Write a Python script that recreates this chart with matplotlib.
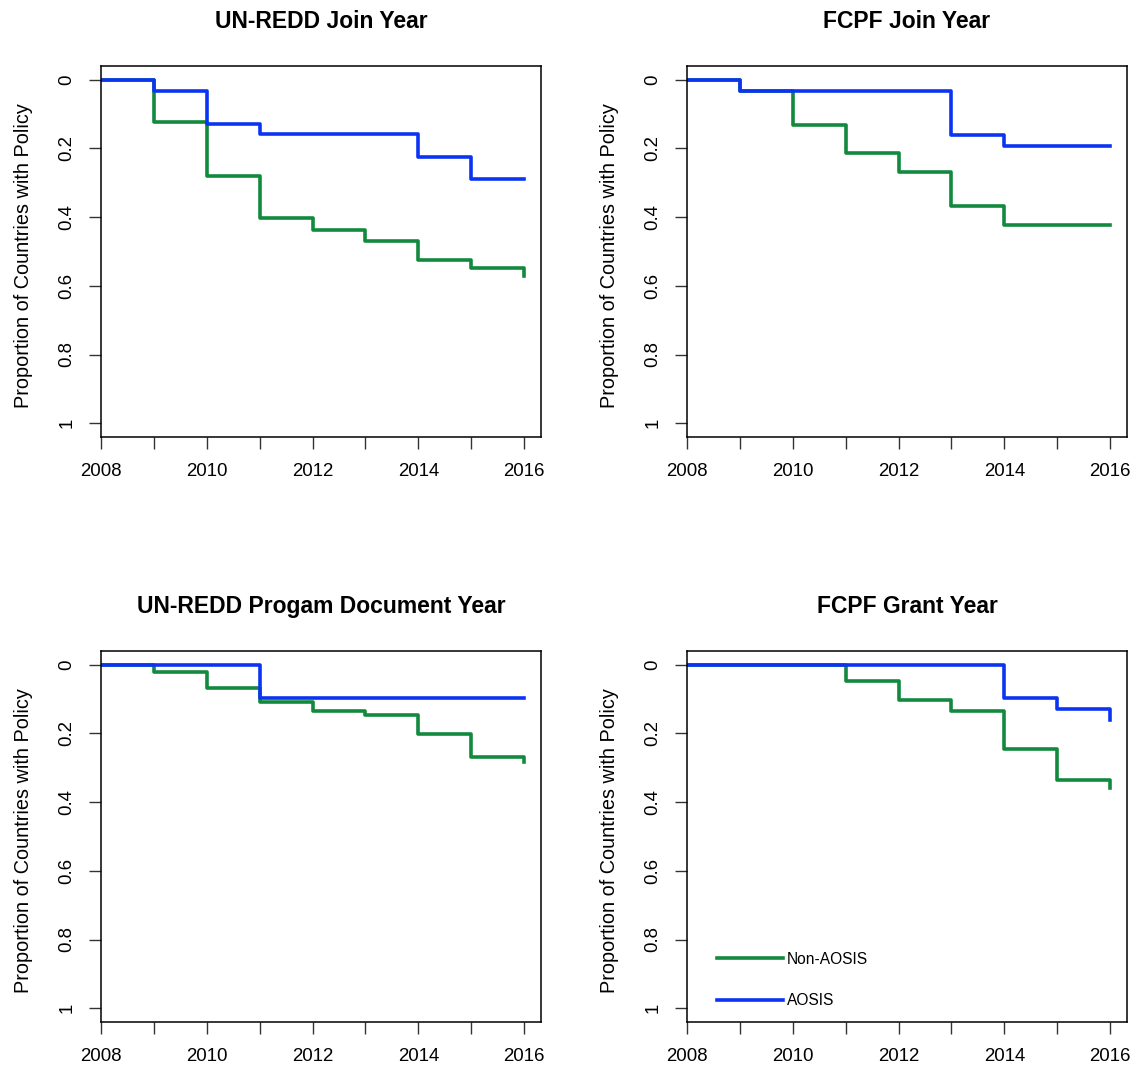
import matplotlib
matplotlib.use("Agg")
import matplotlib.pyplot as plt

plt.rcParams['font.family'] = ['Liberation Sans', 'DejaVu Sans']

# years on the x axis
years = [2008, 2009, 2010, 2011, 2012, 2013, 2014, 2015, 2016]

# panel titles
titles = ["UN-REDD Join Year", "FCPF Join Year",
          "UN-REDD Progam Document Year", "FCPF Grant Year"]

# proportion of countries with policy, Non-AOSIS (green)
non_aosis_unredd_join = [0, 0.123, 0.280, 0.403, 0.436, 0.469, 0.525, 0.549, 0.570]
non_aosis_fcpf_join = [0, 0.032, 0.133, 0.213, 0.269, 0.367, 0.423, 0.423, 0.423]
non_aosis_unredd_doc = [0, 0.022, 0.068, 0.109, 0.134, 0.146, 0.202, 0.269, 0.282]
non_aosis_fcpf_grant = [0, 0, 0, 0.046, 0.102, 0.134, 0.246, 0.335, 0.358]

# proportion of countries with policy, AOSIS (blue)
aosis_unredd_join = [0, 0.032, 0.128, 0.159, 0.159, 0.159, 0.224, 0.288, 0.288]
aosis_fcpf_join = [0, 0.032, 0.032, 0.032, 0.032, 0.161, 0.192, 0.192, 0.192]
aosis_unredd_doc = [0, 0, 0, 0.097, 0.097, 0.097, 0.097, 0.097, 0.097]
aosis_fcpf_grant = [0, 0, 0, 0, 0, 0, 0.097, 0.129, 0.162]

non_aosis = [non_aosis_unredd_join, non_aosis_fcpf_join, non_aosis_unredd_doc, non_aosis_fcpf_grant]
aosis = [aosis_unredd_join, aosis_fcpf_join, aosis_unredd_doc, aosis_fcpf_grant]

yticks = [0, 0.2, 0.4, 0.6, 0.8, 1]
ytick_labels = ["0", "0.2", "0.4", "0.6", "0.8", "1"]

green = "#128a3e"
blue = "#0b34f2"

W, H = 1135, 1069
fig = plt.figure(figsize=(W / 100, H / 100), dpi=100)

# axes boxes in pixels: left, top, right, bottom
boxes = [(101, 66, 541, 437), (687, 66, 1127, 437),
         (101, 651, 541, 1022), (687, 651, 1127, 1022)]

for i, (l, t, r, b) in enumerate(boxes):
    ax = fig.add_axes([l / W, (H - b) / H, (r - l) / W, (b - t) / H])
    ax.step(years, non_aosis[i], where='post', color=green, lw=2.6, label="Non-AOSIS")
    ax.step(years, aosis[i], where='post', color=blue, lw=2.6, label="AOSIS")

    ax.set_xlim(2008, 2016.32)
    ax.set_ylim(1.04, -0.04)

    ax.set_xticks(years)
    ax.set_xticklabels([str(y) if y % 2 == 0 else "" for y in years], fontsize=13.4)
    ax.set_yticks(yticks)
    ax.set_yticklabels(ytick_labels, fontsize=13.4, rotation=90, va='center')

    ax.tick_params(direction='out', length=8.6, width=1.0, color='#333333', pad=10)
    for s in ax.spines.values():
        s.set_linewidth(1.1)

    ax.set_title(titles[i], fontsize=16.5, fontweight='bold', pad=27.4)
    ax.set_ylabel("Proportion of Countries with Policy", fontsize=14.3)
    ax.yaxis.set_label_coords(-0.1545, 0.49)

    if i == 3:
        ax.legend(loc='center left', bbox_to_anchor=(0.069, 0.113), frameon=False,
                  fontsize=11.2, handlelength=4.25, handletextpad=0.2,
                  labelspacing=1.7, borderpad=0, borderaxespad=0)

fig.savefig("out.png", dpi=100)
